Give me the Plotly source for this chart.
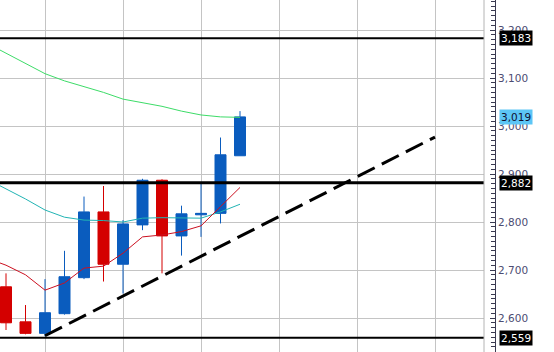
import plotly.graph_objects as go

# ---- data ----
candle_idx = list(range(1, 14))
opens  = [2665, 2592, 2568, 2609, 2684, 2821, 2712, 2794, 2887, 2771, 2815, 2818, 2938]
highs  = [2693, 2627, 2681, 2740, 2853, 2875, 2804, 2890, 2889, 2834, 2881, 2976, 3031]
lows   = [2575, 2566, 2562, 2607, 2681, 2676, 2651, 2783, 2693, 2730, 2769, 2797, 2938]
closes = [2590, 2568, 2611, 2686, 2821, 2712, 2796, 2887, 2771, 2817, 2818, 2940, 3019]

ma_idx = list(range(0, 14))
ma_fast = [2725, 2710, 2690, 2658, 2673, 2704, 2708, 2735, 2769, 2773, 2780, 2792, 2832, 2872]
ma_mid  = [2890, 2869, 2848, 2825, 2810, 2804, 2803, 2800, 2808, 2809, 2808, 2808, 2821, 2837]
ma_slow = [3173, 3152, 3131, 3109, 3094, 3082, 3070, 3056, 3048, 3041, 3031, 3023, 3019, 3018]

trend_x = [3, 23]
trend_y = [2563, 2977]

levels = [3183, 2882, 2559]
level_labels = ["3,183", "2,882", "2,559"]
last_price = 3019
last_label = "3,019"

# ---- figure ----
fig = go.Figure()

blue = "#0a5cbe"
red = "#d40000"

fig.add_trace(go.Scatter(x=ma_idx, y=ma_slow, mode="lines",
                         line=dict(color="#3ddc68", width=1), hoverinfo="skip"))
fig.add_trace(go.Scatter(x=ma_idx, y=ma_mid, mode="lines",
                         line=dict(color="#22b4b4", width=1), hoverinfo="skip"))

fig.add_trace(go.Candlestick(
    x=candle_idx, open=opens, high=highs, low=lows, close=closes,
    increasing=dict(line=dict(color=blue, width=1), fillcolor=blue),
    decreasing=dict(line=dict(color=red, width=1), fillcolor=red),
    whiskerwidth=0,
))

fig.add_trace(go.Scatter(x=ma_idx, y=ma_fast, mode="lines",
                         line=dict(color="#cc1020", width=1), hoverinfo="skip"))

for lv, w in zip(levels, [2, 3, 2]):
    fig.add_shape(type="line", xref="x domain", yref="y", x0=0, x1=1, y0=lv, y1=lv,
                  line=dict(color="black", width=w))

fig.add_trace(go.Scatter(x=trend_x, y=trend_y, mode="lines",
                         line=dict(color="black", width=3, dash="19px,8px"), hoverinfo="skip"))

# right border of chart area
fig.add_shape(type="line", xref="x domain", yref="paper", x0=1, x1=1, y0=0, y1=1,
              line=dict(color="#b4b4b4", width=1))

for lv, txt in zip(levels, level_labels):
    fig.add_annotation(x=499/554, xref="paper", y=lv, yref="y", text=txt,
                       xanchor="left", yanchor="middle", showarrow=False,
                       bgcolor="black", borderpad=1,
                       font=dict(family="DejaVu Sans", size=10.5, color="white"))
fig.add_annotation(x=499/554, xref="paper", y=last_price, yref="y", text=last_label,
                   xanchor="left", yanchor="middle", showarrow=False,
                   bgcolor="#5cc6f6", borderpad=1,
                   font=dict(family="DejaVu Sans", size=10.5, color="#101030"))

fig.update_layout(
    width=554, height=352,
    margin=dict(l=0, r=0, t=0, b=0),
    paper_bgcolor="white", plot_bgcolor="white",
    showlegend=False,
    boxgap=0.436, boxgroupgap=0,
    xaxis=dict(domain=[0, 484/554], range=[1 - 6/19.5, 1 + 478/19.5],
               showgrid=True, gridcolor="#c4c4c4", gridwidth=1,
               tick0=3, dtick=4, showticklabels=False, ticks="",
               zeroline=False, rangeslider=dict(visible=False), fixedrange=True),
    yaxis=dict(range=[3200 - 322/0.48, 3200 + 30/0.48],
               side="right", anchor="free", position=495/554,
               showgrid=True, gridcolor="#c4c4c4", gridwidth=1,
               tick0=2600, dtick=100, tickformat=",d",
               ticks="inside", ticklen=5, tickcolor="#3a3a50",
               showline=True, linecolor="#3a3a50", linewidth=1,
               minor=dict(dtick=10, ticks="inside", ticklen=4, tickcolor="#3a3a50", showgrid=False),
               tickfont=dict(family="DejaVu Sans", size=10.5, color="#4c4c72"),
               zeroline=False, fixedrange=True),
)

fig.write_html("out.html")
